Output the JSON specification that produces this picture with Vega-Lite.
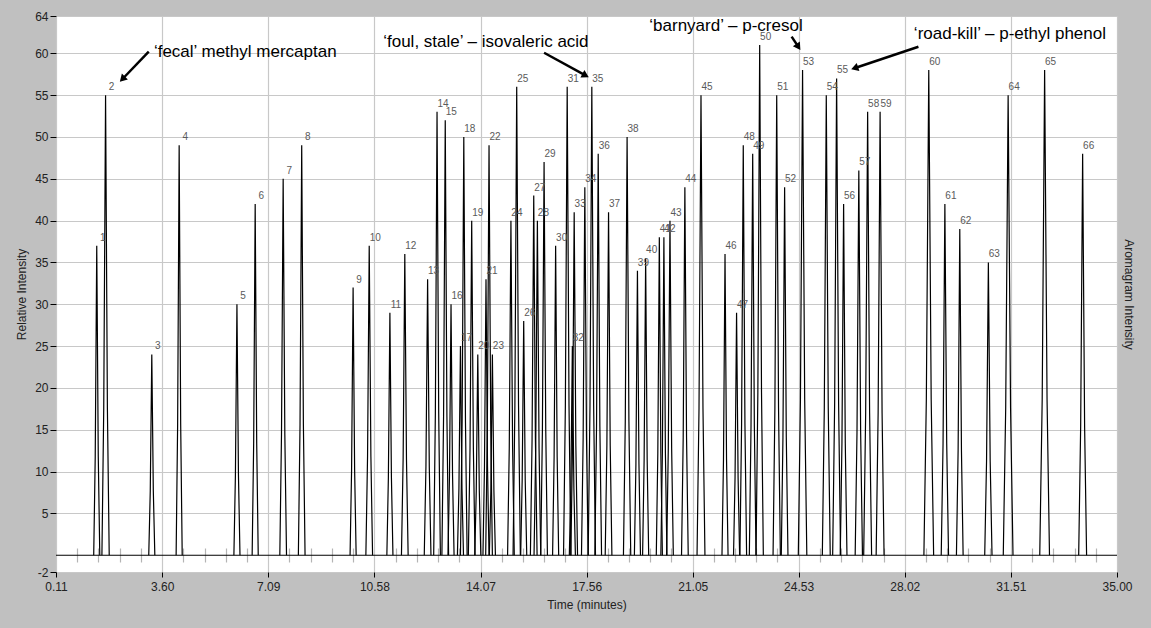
{
"$schema": "https://vega.github.io/schema/vega-lite/v6.json",
"width": 1061, "height": 556,
"autosize": {"type": "none"},
"padding": {"left": 56, "top": 16, "right": 34, "bottom": 56},
"background": "#c0c0c0",
"config": {"view": {"fill": "#ffffff", "stroke": null}, "font": "Liberation Sans"},
"datasets": {
"peaks": [
{"p":1,"t":1.35,"v":0},{"p":1,"t":1.40,"v":11.8},{"p":1,"t":1.45,"v":37},{"p":1,"t":1.50,"v":11.8},{"p":1,"t":1.55,"v":0},
{"p":2,"t":1.62,"v":0},{"p":2,"t":1.68,"v":17.6},{"p":2,"t":1.74,"v":55},{"p":2,"t":1.80,"v":17.6},{"p":2,"t":1.86,"v":0},
{"p":3,"t":3.16,"v":0},{"p":3,"t":3.21,"v":7.7},{"p":3,"t":3.26,"v":24},{"p":3,"t":3.31,"v":7.7},{"p":3,"t":3.36,"v":0},
{"p":4,"t":4.06,"v":0},{"p":4,"t":4.11,"v":15.7},{"p":4,"t":4.16,"v":49},{"p":4,"t":4.21,"v":15.7},{"p":4,"t":4.26,"v":0},
{"p":5,"t":5.96,"v":0},{"p":5,"t":6.01,"v":9.6},{"p":5,"t":6.06,"v":30},{"p":5,"t":6.11,"v":9.6},{"p":5,"t":6.16,"v":0},
{"p":6,"t":6.56,"v":0},{"p":6,"t":6.61,"v":13.4},{"p":6,"t":6.66,"v":42},{"p":6,"t":6.71,"v":13.4},{"p":6,"t":6.76,"v":0},
{"p":7,"t":7.47,"v":0},{"p":7,"t":7.525,"v":14.4},{"p":7,"t":7.58,"v":45},{"p":7,"t":7.635,"v":14.4},{"p":7,"t":7.69,"v":0},
{"p":8,"t":8.08,"v":0},{"p":8,"t":8.135,"v":15.7},{"p":8,"t":8.19,"v":49},{"p":8,"t":8.245,"v":15.7},{"p":8,"t":8.30,"v":0},
{"p":9,"t":9.78,"v":0},{"p":9,"t":9.83,"v":10.2},{"p":9,"t":9.88,"v":32},{"p":9,"t":9.93,"v":10.2},{"p":9,"t":9.98,"v":0},
{"p":10,"t":10.30,"v":0},{"p":10,"t":10.355,"v":11.8},{"p":10,"t":10.41,"v":37},{"p":10,"t":10.465,"v":11.8},{"p":10,"t":10.52,"v":0},
{"p":11,"t":10.99,"v":0},{"p":11,"t":11.04,"v":9.3},{"p":11,"t":11.09,"v":29},{"p":11,"t":11.14,"v":9.3},{"p":11,"t":11.19,"v":0},
{"p":12,"t":11.47,"v":0},{"p":12,"t":11.525,"v":11.5},{"p":12,"t":11.58,"v":36},{"p":12,"t":11.635,"v":11.5},{"p":12,"t":11.69,"v":0},
{"p":13,"t":12.22,"v":0},{"p":13,"t":12.275,"v":10.6},{"p":13,"t":12.33,"v":33},{"p":13,"t":12.385,"v":10.6},{"p":13,"t":12.44,"v":0},
{"p":14,"t":12.53,"v":0},{"p":14,"t":12.585,"v":17},{"p":14,"t":12.64,"v":53},{"p":14,"t":12.695,"v":17},{"p":14,"t":12.75,"v":0},
{"p":15,"t":12.80,"v":0},{"p":15,"t":12.855,"v":16.6},{"p":15,"t":12.91,"v":52},{"p":15,"t":12.965,"v":16.6},{"p":15,"t":13.02,"v":0},
{"p":16,"t":13.00,"v":0},{"p":16,"t":13.05,"v":9.6},{"p":16,"t":13.10,"v":30},{"p":16,"t":13.15,"v":9.6},{"p":16,"t":13.20,"v":0},
{"p":17,"t":13.31,"v":0},{"p":17,"t":13.36,"v":8},{"p":17,"t":13.41,"v":25},{"p":17,"t":13.46,"v":8},{"p":17,"t":13.51,"v":0},
{"p":18,"t":13.41,"v":0},{"p":18,"t":13.465,"v":16},{"p":18,"t":13.52,"v":50},{"p":18,"t":13.575,"v":16},{"p":18,"t":13.63,"v":0},
{"p":19,"t":13.67,"v":0},{"p":19,"t":13.725,"v":12.8},{"p":19,"t":13.78,"v":40},{"p":19,"t":13.835,"v":12.8},{"p":19,"t":13.89,"v":0},
{"p":20,"t":13.88,"v":0},{"p":20,"t":13.93,"v":7.7},{"p":20,"t":13.98,"v":24},{"p":20,"t":14.03,"v":7.7},{"p":20,"t":14.08,"v":0},
{"p":21,"t":14.15,"v":0},{"p":21,"t":14.20,"v":10.6},{"p":21,"t":14.25,"v":33},{"p":21,"t":14.30,"v":10.6},{"p":21,"t":14.35,"v":0},
{"p":22,"t":14.24,"v":0},{"p":22,"t":14.295,"v":15.7},{"p":22,"t":14.35,"v":49},{"p":22,"t":14.405,"v":15.7},{"p":22,"t":14.46,"v":0},
{"p":23,"t":14.36,"v":0},{"p":23,"t":14.41,"v":7.7},{"p":23,"t":14.46,"v":24},{"p":23,"t":14.51,"v":7.7},{"p":23,"t":14.56,"v":0},
{"p":24,"t":14.96,"v":0},{"p":24,"t":15.015,"v":12.8},{"p":24,"t":15.07,"v":40},{"p":24,"t":15.125,"v":12.8},{"p":24,"t":15.18,"v":0},
{"p":25,"t":15.14,"v":0},{"p":25,"t":15.20,"v":17.9},{"p":25,"t":15.26,"v":56},{"p":25,"t":15.32,"v":17.9},{"p":25,"t":15.38,"v":0},
{"p":26,"t":15.39,"v":0},{"p":26,"t":15.44,"v":9},{"p":26,"t":15.49,"v":28},{"p":26,"t":15.54,"v":9},{"p":26,"t":15.59,"v":0},
{"p":27,"t":15.71,"v":0},{"p":27,"t":15.765,"v":13.8},{"p":27,"t":15.82,"v":43},{"p":27,"t":15.875,"v":13.8},{"p":27,"t":15.93,"v":0},
{"p":28,"t":15.83,"v":0},{"p":28,"t":15.885,"v":12.8},{"p":28,"t":15.94,"v":40},{"p":28,"t":15.995,"v":12.8},{"p":28,"t":16.05,"v":0},
{"p":29,"t":16.05,"v":0},{"p":29,"t":16.105,"v":15},{"p":29,"t":16.16,"v":47},{"p":29,"t":16.215,"v":15},{"p":29,"t":16.27,"v":0},
{"p":30,"t":16.44,"v":0},{"p":30,"t":16.49,"v":11.8},{"p":30,"t":16.54,"v":37},{"p":30,"t":16.59,"v":11.8},{"p":30,"t":16.64,"v":0},
{"p":31,"t":16.80,"v":0},{"p":31,"t":16.86,"v":17.9},{"p":31,"t":16.92,"v":56},{"p":31,"t":16.98,"v":17.9},{"p":31,"t":17.04,"v":0},
{"p":32,"t":16.99,"v":0},{"p":32,"t":17.04,"v":8},{"p":32,"t":17.09,"v":25},{"p":32,"t":17.14,"v":8},{"p":32,"t":17.19,"v":0},
{"p":33,"t":17.04,"v":0},{"p":33,"t":17.095,"v":13.1},{"p":33,"t":17.15,"v":41},{"p":33,"t":17.205,"v":13.1},{"p":33,"t":17.26,"v":0},
{"p":34,"t":17.39,"v":0},{"p":34,"t":17.445,"v":14.1},{"p":34,"t":17.50,"v":44},{"p":34,"t":17.555,"v":14.1},{"p":34,"t":17.61,"v":0},
{"p":35,"t":17.61,"v":0},{"p":35,"t":17.67,"v":17.9},{"p":35,"t":17.73,"v":56},{"p":35,"t":17.79,"v":17.9},{"p":35,"t":17.85,"v":0},
{"p":36,"t":17.83,"v":0},{"p":36,"t":17.885,"v":15.4},{"p":36,"t":17.94,"v":48},{"p":36,"t":17.995,"v":15.4},{"p":36,"t":18.05,"v":0},
{"p":37,"t":18.17,"v":0},{"p":37,"t":18.225,"v":13.1},{"p":37,"t":18.28,"v":41},{"p":37,"t":18.335,"v":13.1},{"p":37,"t":18.39,"v":0},
{"p":38,"t":18.77,"v":0},{"p":38,"t":18.83,"v":16},{"p":38,"t":18.89,"v":50},{"p":38,"t":18.95,"v":16},{"p":38,"t":19.01,"v":0},
{"p":39,"t":19.13,"v":0},{"p":39,"t":19.18,"v":10.9},{"p":39,"t":19.23,"v":34},{"p":39,"t":19.28,"v":10.9},{"p":39,"t":19.33,"v":0},
{"p":40,"t":19.40,"v":0},{"p":40,"t":19.45,"v":11.4},{"p":40,"t":19.50,"v":35.5},{"p":40,"t":19.55,"v":11.4},{"p":40,"t":19.60,"v":0},
{"p":41,"t":19.85,"v":0},{"p":41,"t":19.90,"v":12.2},{"p":41,"t":19.95,"v":38},{"p":41,"t":20.00,"v":12.2},{"p":41,"t":20.05,"v":0},
{"p":42,"t":20.00,"v":0},{"p":42,"t":20.05,"v":12.2},{"p":42,"t":20.10,"v":38},{"p":42,"t":20.15,"v":12.2},{"p":42,"t":20.20,"v":0},
{"p":43,"t":20.19,"v":0},{"p":43,"t":20.245,"v":12.8},{"p":43,"t":20.30,"v":40},{"p":43,"t":20.355,"v":12.8},{"p":43,"t":20.41,"v":0},
{"p":44,"t":20.68,"v":0},{"p":44,"t":20.735,"v":14.1},{"p":44,"t":20.79,"v":44},{"p":44,"t":20.845,"v":14.1},{"p":44,"t":20.90,"v":0},
{"p":45,"t":21.19,"v":0},{"p":45,"t":21.255,"v":17.6},{"p":45,"t":21.32,"v":55},{"p":45,"t":21.385,"v":17.6},{"p":45,"t":21.45,"v":0},
{"p":46,"t":22.01,"v":0},{"p":46,"t":22.06,"v":11.5},{"p":46,"t":22.11,"v":36},{"p":46,"t":22.16,"v":11.5},{"p":46,"t":22.21,"v":0},
{"p":47,"t":22.39,"v":0},{"p":47,"t":22.44,"v":9.3},{"p":47,"t":22.49,"v":29},{"p":47,"t":22.54,"v":9.3},{"p":47,"t":22.59,"v":0},
{"p":48,"t":22.60,"v":0},{"p":48,"t":22.655,"v":15.7},{"p":48,"t":22.71,"v":49},{"p":48,"t":22.765,"v":15.7},{"p":48,"t":22.82,"v":0},
{"p":49,"t":22.91,"v":0},{"p":49,"t":22.965,"v":15.4},{"p":49,"t":23.02,"v":48},{"p":49,"t":23.075,"v":15.4},{"p":49,"t":23.13,"v":0},
{"p":50,"t":23.13,"v":0},{"p":50,"t":23.19,"v":19.5},{"p":50,"t":23.25,"v":61},{"p":50,"t":23.31,"v":19.5},{"p":50,"t":23.37,"v":0},
{"p":51,"t":23.69,"v":0},{"p":51,"t":23.75,"v":17.6},{"p":51,"t":23.81,"v":55},{"p":51,"t":23.87,"v":17.6},{"p":51,"t":23.93,"v":0},
{"p":52,"t":23.96,"v":0},{"p":52,"t":24.015,"v":14.1},{"p":52,"t":24.07,"v":44},{"p":52,"t":24.125,"v":14.1},{"p":52,"t":24.18,"v":0},
{"p":53,"t":24.52,"v":0},{"p":53,"t":24.59,"v":18.6},{"p":53,"t":24.66,"v":58},{"p":53,"t":24.73,"v":18.6},{"p":53,"t":24.80,"v":0},
{"p":54,"t":25.31,"v":0},{"p":54,"t":25.375,"v":17.6},{"p":54,"t":25.44,"v":55},{"p":54,"t":25.505,"v":17.6},{"p":54,"t":25.57,"v":0},
{"p":55,"t":25.65,"v":0},{"p":55,"t":25.715,"v":18.2},{"p":55,"t":25.78,"v":57},{"p":55,"t":25.845,"v":18.2},{"p":55,"t":25.91,"v":0},
{"p":56,"t":25.90,"v":0},{"p":56,"t":25.955,"v":13.4},{"p":56,"t":26.01,"v":42},{"p":56,"t":26.065,"v":13.4},{"p":56,"t":26.12,"v":0},
{"p":57,"t":26.39,"v":0},{"p":57,"t":26.45,"v":14.7},{"p":57,"t":26.51,"v":46},{"p":57,"t":26.57,"v":14.7},{"p":57,"t":26.63,"v":0},
{"p":58,"t":26.67,"v":0},{"p":58,"t":26.735,"v":17},{"p":58,"t":26.80,"v":53},{"p":58,"t":26.865,"v":17},{"p":58,"t":26.93,"v":0},
{"p":59,"t":27.08,"v":0},{"p":59,"t":27.145,"v":17},{"p":59,"t":27.21,"v":53},{"p":59,"t":27.275,"v":17},{"p":59,"t":27.34,"v":0},
{"p":60,"t":28.65,"v":0},{"p":60,"t":28.73,"v":18.6},{"p":60,"t":28.81,"v":58},{"p":60,"t":28.89,"v":18.6},{"p":60,"t":28.97,"v":0},
{"p":61,"t":29.22,"v":0},{"p":61,"t":29.28,"v":13.4},{"p":61,"t":29.34,"v":42},{"p":61,"t":29.40,"v":13.4},{"p":61,"t":29.46,"v":0},
{"p":62,"t":29.72,"v":0},{"p":62,"t":29.775,"v":12.5},{"p":62,"t":29.83,"v":39},{"p":62,"t":29.885,"v":12.5},{"p":62,"t":29.94,"v":0},
{"p":63,"t":30.65,"v":0},{"p":63,"t":30.71,"v":11.2},{"p":63,"t":30.77,"v":35},{"p":63,"t":30.83,"v":11.2},{"p":63,"t":30.89,"v":0},
{"p":64,"t":31.26,"v":0},{"p":64,"t":31.34,"v":17.6},{"p":64,"t":31.42,"v":55},{"p":64,"t":31.50,"v":17.6},{"p":64,"t":31.58,"v":0},
{"p":65,"t":32.46,"v":0},{"p":65,"t":32.54,"v":18.6},{"p":65,"t":32.62,"v":58},{"p":65,"t":32.70,"v":18.6},{"p":65,"t":32.78,"v":0},
{"p":66,"t":33.74,"v":0},{"p":66,"t":33.805,"v":15.4},{"p":66,"t":33.87,"v":48},{"p":66,"t":33.935,"v":15.4},{"p":66,"t":34.00,"v":0}
],
"notes": [
{"t":3.33,"v":59.6,"txt":"‘fecal’ methyl mercaptan"},
{"t":10.87,"v":60.8,"txt":"‘foul, stale’ – isovaleric acid"},
{"t":19.62,"v":62.7,"txt":"‘barnyard’ – p-cresol"},
{"t":28.32,"v":61.7,"txt":"‘road-kill’ – p-ethyl phenol"}
],
"arrows": [
{"t1":3.16,"v1":60.19,"t2":2.32,"v2":57.02,"ang":223.9},
{"t1":16.16,"v1":60.07,"t2":17.49,"v2":57.42,"ang":118.7},
{"t1":24.30,"v1":61.99,"t2":24.50,"v2":60.89,"ang":146.3},
{"t1":28.47,"v1":60.79,"t2":26.41,"v2":58.27,"ang":251.3}
]
},
"layer": [
{
"data": {"name": "peaks"},
"mark": {"type": "line", "color": "#000000", "strokeWidth": 1.2, "clip": true},
"encoding": {
"x": {"field": "t", "type": "quantitative",
"scale": {"domain": [0.11, 35], "nice": false, "zero": false},
"axis": {"orient": "bottom", "values": [0.11, 3.6, 7.09, 10.58, 14.07, 17.56, 21.05, 24.53, 28.02, 31.51, 35.0],
"format": ".2f", "title": "Time (minutes)", "grid": true, "gridColor": "#c8c8c8", "gridWidth": 1.2,
"domain": false, "tickColor": "#000000", "tickSize": 5, "labelFontSize": 12, "labelColor": "#222222",
"labelFlush": false, "labelOverlap": false, "labelPadding": 4,
"titleFontSize": 12, "titleFontWeight": "normal", "titleColor": "#222222", "titlePadding": 7}},
"y": {"field": "v", "type": "quantitative",
"scale": {"domain": [-2, 64.46], "nice": false, "zero": false},
"axis": {"orient": "left", "values": [-2, 5, 10, 15, 20, 25, 30, 35, 40, 45, 50, 55, 60, 64.46],
"labelExpr": "datum.value > 64 ? '64' : (datum.value < 0 ? '-2' : datum.label)",
"title": "Relative Intensity", "grid": true, "gridColor": "#c8c8c8", "gridWidth": 1.2,
"domain": false, "tickColor": "#000000", "tickSize": 6, "labelFontSize": 12, "labelColor": "#222222",
"labelFlush": false, "labelOverlap": false, "labelPadding": 2,
"titleFontSize": 12, "titleFontWeight": "normal", "titleColor": "#222222", "titlePadding": 6}},
"detail": {"field": "p", "type": "nominal"}
}
},
{
"data": {"values": [{}]},
"mark": {"type": "rule", "color": "#000000", "strokeWidth": 1.2},
"encoding": {
"y": {"datum": 0, "type": "quantitative", "scale": {"domain": [-2, 64.46], "nice": false, "zero": false}, "axis": null}
}
},
{
"data": {"name": "peaks"},
"transform": [
{"joinaggregate": [{"op": "max", "field": "v", "as": "vmax"}], "groupby": ["p"]},
{"filter": "datum.v === datum.vmax"}
],
"mark": {"type": "text", "fontSize": 10, "color": "#5a5a5a", "dx": 6, "dy": -8, "align": "center", "baseline": "middle"},
"encoding": {
"x": {"field": "t", "type": "quantitative",
"scale": {"domain": [0.11, 35], "nice": false, "zero": false},
"axis": {"orient": "bottom", "values": [0.808, 1.506, 2.203, 2.901, 4.297, 4.995, 5.692, 6.39, 7.786, 8.484, 9.181, 9.879, 11.275, 11.972, 12.67, 13.368, 14.764, 15.462, 16.159, 16.857, 18.253, 18.95, 19.648, 20.346, 21.742, 22.44, 23.137, 23.835, 25.231, 25.928, 26.626, 27.324, 28.72, 29.417, 30.115, 30.813, 32.209, 32.906, 33.604, 34.302],
"labels": false, "grid": false, "domain": false, "ticks": true, "tickSize": 14, "tickColor": "#b4b4b4", "tickWidth": 1.2, "offset": -24, "title": null}},
"y": {"field": "v", "type": "quantitative",
"scale": {"domain": [-2, 64.46], "nice": false, "zero": false},
"axis": {"orient": "right", "title": "Aromagram Intensity", "titleAngle": 90, "labels": false, "ticks": false, "domain": false, "grid": false,
"titleFontSize": 12, "titleFontWeight": "normal", "titleColor": "#222222", "titlePadding": 4}},
"text": {"field": "p", "type": "nominal"}
}
},
{
"data": {"name": "notes"},
"mark": {"type": "text", "fontSize": 17, "color": "#000000", "align": "left", "baseline": "alphabetic", "font": "Liberation Sans"},
"encoding": {
"x": {"field": "t", "type": "quantitative", "scale": {"domain": [0.11, 35], "nice": false, "zero": false}, "axis": null},
"y": {"field": "v", "type": "quantitative", "scale": {"domain": [-2, 64.46], "nice": false, "zero": false}, "axis": null},
"text": {"field": "txt", "type": "nominal"}
}
},
{
"data": {"name": "arrows"},
"mark": {"type": "rule", "color": "#000000", "strokeWidth": 2.5},
"encoding": {
"x": {"field": "t1", "type": "quantitative", "scale": {"domain": [0.11, 35], "nice": false, "zero": false}, "axis": null},
"y": {"field": "v1", "type": "quantitative", "scale": {"domain": [-2, 64.46], "nice": false, "zero": false}, "axis": null},
"x2": {"field": "t2"},
"y2": {"field": "v2"}
}
},
{
"data": {"name": "arrows"},
"mark": {"type": "point", "shape": "triangle", "filled": true, "color": "#000000", "size": 70, "opacity": 1},
"encoding": {
"x": {"field": "t2", "type": "quantitative", "scale": {"domain": [0.11, 35], "nice": false, "zero": false}, "axis": null},
"y": {"field": "v2", "type": "quantitative", "scale": {"domain": [-2, 64.46], "nice": false, "zero": false}, "axis": null},
"angle": {"field": "ang", "type": "quantitative", "scale": null}
}
}
],
"resolve": {"axis": {"x": "independent", "y": "independent"}}
}
